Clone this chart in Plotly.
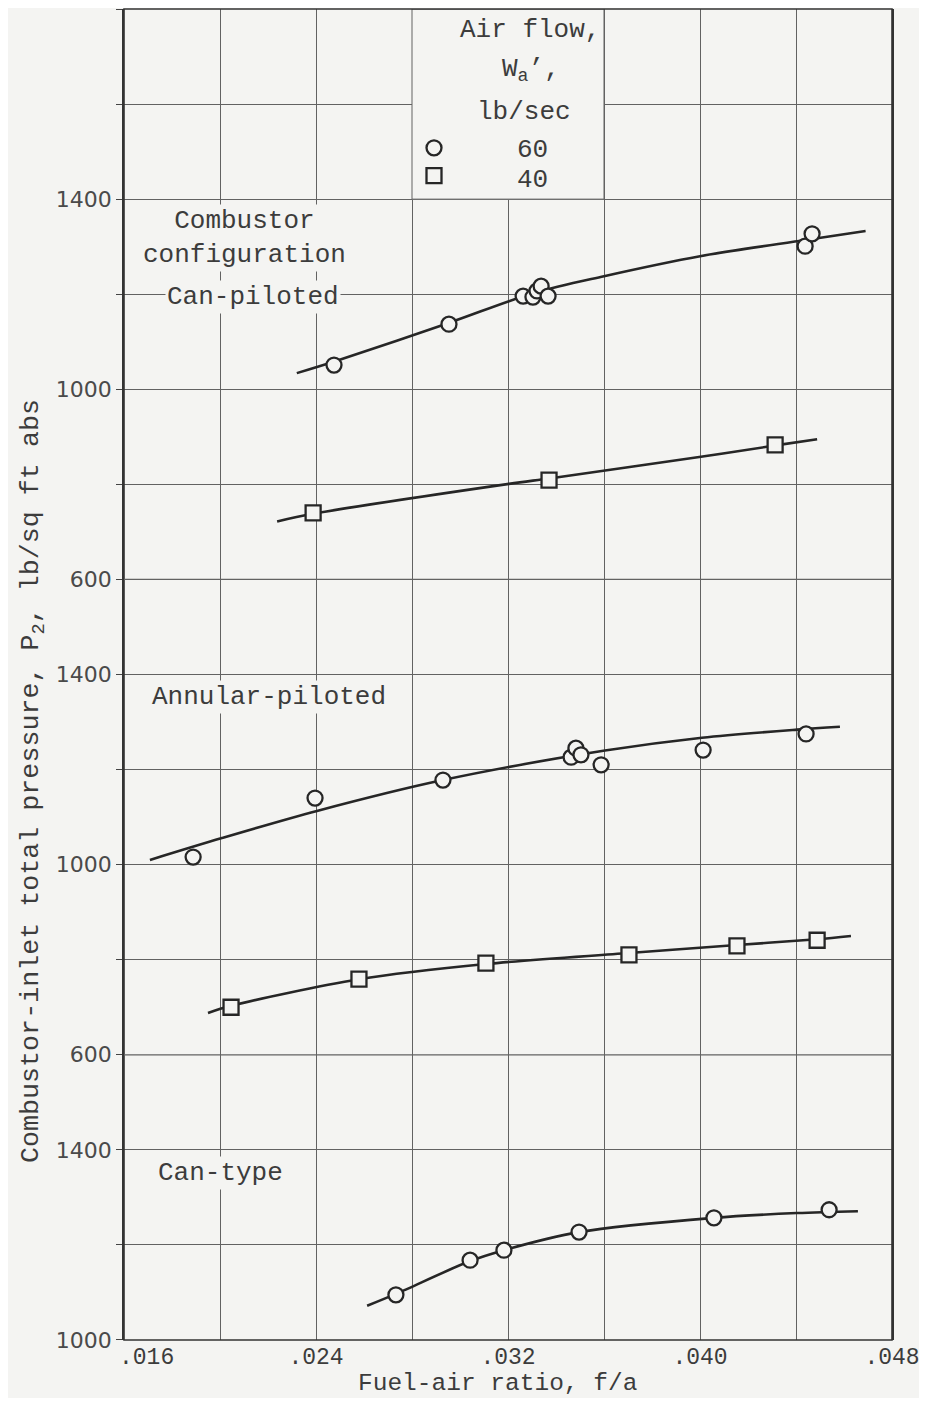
import plotly.graph_objects as go

# ---------------- data ----------------
# x: fuel-air ratio f/a ; y: combustor-inlet total pressure P2, lb/sq ft abs
# Can-piloted combustor
cp60_x = [0.02475, 0.02954, 0.03263, 0.03304, 0.03321, 0.03338, 0.03367, 0.04438, 0.04467]
cp60_y = [1051, 1137, 1196, 1194, 1207, 1217, 1196, 1301, 1327]
cp60_fit_x = [0.0232, 0.0248, 0.0295, 0.0331, 0.0360, 0.0400, 0.0444, 0.0469]
cp60_fit_y = [1034, 1059, 1139, 1203, 1238, 1280, 1314, 1333]
cp40_x = [0.02388, 0.03371, 0.04313]
cp40_y = [740, 809, 883]
cp40_fit_x = [0.02238, 0.02388, 0.03204, 0.03379, 0.04004, 0.04329, 0.04488]
cp40_fit_y = [722, 738, 801, 813, 858, 883, 895]

# Annular-piloted combustor
an60_x = [0.01888, 0.02396, 0.02929, 0.03463, 0.03483, 0.03504, 0.03588, 0.04013, 0.04442]
an60_y = [1016, 1140, 1178, 1226, 1245, 1231, 1210, 1241, 1275]
an60_fit_x = [0.01708, 0.02008, 0.02404, 0.02929, 0.03604, 0.04008, 0.04404, 0.04583]
an60_fit_y = [1010, 1056, 1113, 1178, 1240, 1267, 1284, 1290]
an40_x = [0.02046, 0.02579, 0.03108, 0.03704, 0.04154, 0.04488]
an40_y = [700, 759, 793, 810, 829, 841]
an40_fit_x = [0.0195, 0.02046, 0.02579, 0.03108, 0.03704, 0.04154, 0.04488, 0.04629]
an40_fit_y = [688, 703, 759, 791, 814, 831, 843, 850]

# Can-type combustor
ct60_x = [0.02733, 0.03042, 0.03183, 0.03496, 0.04058, 0.04538]
ct60_y = [1095, 1168, 1189, 1227, 1257, 1274]
ct60_fit_x = [0.02613, 0.02733, 0.03042, 0.03183, 0.03496, 0.04058, 0.04404, 0.04658]
ct60_fit_y = [1072, 1097, 1166, 1189, 1227, 1257, 1267, 1271]

# legend labels (air flow, lb/sec)
legend_labels = ["60", "40"]

# ticks and grid
x_tick_vals = [0.024, 0.032, 0.040, 0.048]
x_tick_text = [".024", ".032", ".040", ".048"]
x_first_label = ".016"          # drawn just right of the corner, as in the original
x_grid_vals = [0.016, 0.020, 0.024, 0.028, 0.032, 0.036, 0.040, 0.044, 0.048]
y1_tick_vals = [600, 1000, 1400]
y2_tick_vals = [600, 1000, 1400]
y3_tick_vals = [1000, 1400]
y1_grid_vals = [600, 800, 1000, 1200, 1400, 1600, 1800]
y2_grid_vals = [600, 800, 1000, 1200, 1400, 1600]
y3_grid_vals = [1000, 1200, 1400, 1600]

# ---------------- style ----------------
BG = "#f4f4f2"
INK = "#262626"
TXT = "#3c3c3c"
GRID = "#626262"
FRAME = "#333333"
MONO = "Liberation Mono"

fig = go.Figure()


def fit(x, y, ya):
    fig.add_trace(go.Scatter(x=x, y=y, xaxis="x", yaxis=ya, mode="lines",
                             line=dict(color=INK, width=2.6, shape="spline", smoothing=0.9),
                             showlegend=False, hoverinfo="skip"))


def pts(x, y, ya, symbol, legend=False):
    fig.add_trace(go.Scatter(x=x, y=y, xaxis="x", yaxis=ya, mode="markers",
                             marker=dict(symbol=symbol, size=15, color=BG,
                                         line=dict(color=INK, width=2.3)),
                             name="", showlegend=legend))


fit(cp60_fit_x, cp60_fit_y, "y")
fit(cp40_fit_x, cp40_fit_y, "y")
fit(an60_fit_x, an60_fit_y, "y2")
fit(an40_fit_x, an40_fit_y, "y2")
fit(ct60_fit_x, ct60_fit_y, "y3")
pts(cp60_x, cp60_y, "y", "circle", True)
pts(cp40_x, cp40_y, "y", "square", True)
pts(an60_x, an60_y, "y2", "circle")
pts(an40_x, an40_y, "y2", "square")
pts(ct60_x, ct60_y, "y3", "circle")

# page layout (the page body has an 8 px margin)
OFF = 8
W, H = 919, 1390
L, R, T, B = 124 - OFF, 35, 9 - OFF, 58
PW, PH = W - L - R, H - T - B


def px(xp):  # page pixel -> paper x
    return (xp - OFF - L) / PW


def py(yp):  # page pixel -> paper y
    return (H - B - (yp - OFF)) / PH


def yaxis(domain, rng, tvals, gvals):
    return dict(domain=domain, range=rng, tickmode="array", tickvals=tvals,
                ticktext=[str(v) for v in tvals],
                showgrid=True, gridcolor=GRID, gridwidth=1, zeroline=False,
                showline=True, linecolor=FRAME, linewidth=1.5, mirror=True,
                ticks="outside", ticklen=6, tickcolor="#444444",
                minor=dict(tickmode="array", tickvals=gvals, showgrid=True,
                           gridcolor=GRID, gridwidth=1, ticks="outside",
                           ticklen=6, tickcolor="#444444"),
                tickfont=dict(family="DejaVu Sans", size=22, color="#4a4a4a"),
                anchor="x", automargin=False, fixedrange=True)


fig.update_layout(
    width=W, height=H, autosize=False,
    margin=dict(l=L, r=R, t=T, b=B, pad=0),
    paper_bgcolor=BG, plot_bgcolor=BG,
    xaxis=dict(domain=[0, 1], range=[0.016, 0.048], anchor="y3",
               tickmode="array", tickvals=x_tick_vals, ticktext=x_tick_text,
               showgrid=True, gridcolor=GRID, gridwidth=1, zeroline=False,
               minor=dict(tickmode="array", tickvals=x_grid_vals, showgrid=True,
                          gridcolor=GRID, gridwidth=1),
               showline=False, ticks="", ticklabelstandoff=0, automargin=False,
               tickfont=dict(family=MONO, size=23, color=TXT), fixedrange=True),
    yaxis=yaxis([8 / 14, 1], [600, 1800], y1_tick_vals, y1_grid_vals),
    yaxis2=yaxis([3 / 14, 8 / 14], [600, 1600], y2_tick_vals, y2_grid_vals),
    yaxis3=yaxis([0, 3 / 14], [1000, 1600], y3_tick_vals, y3_grid_vals),
    legend=dict(x=px(414), y=py(129), xanchor="left", yanchor="top",
                bgcolor="rgba(0,0,0,0)", borderwidth=0,
                font=dict(family=MONO, size=19, color=TXT), tracegroupgap=0),
    showlegend=True,
)

# blank-out box behind the legend block (grid lines hidden there)
fig.add_shape(type="rect", xref="x", yref="y", x0=0.028, x1=0.036, y0=1400, y1=1800,
              fillcolor=BG, line=dict(color=GRID, width=1), layer="between")
# outer frame and panel boundaries
fig.add_shape(type="rect", xref="paper", yref="paper", x0=0, x1=1, y0=0, y1=1,
              line=dict(color=FRAME, width=1.6), layer="above")
for yb in (3 / 14, 8 / 14):
    fig.add_shape(type="line", xref="paper", yref="paper", x0=0, x1=1, y0=yb, y1=yb,
                  line=dict(color=GRID, width=1.2), layer="above")

ann_font = dict(family=MONO, size=26, color=TXT)


def note(text, xp, yp, bg=None, size=26, xanchor="center", **kw):
    fig.add_annotation(text=text, x=px(xp), y=py(yp), xref="paper", yref="paper",
                       showarrow=False, font=dict(ann_font, size=size), bgcolor=bg,
                       xanchor=xanchor, yanchor="middle", **kw)


note("Air flow,", 530, 30)
note("W<sub>a</sub>\u2019,", 531, 70)
note("lb/sec", 524, 112)
note(legend_labels[0], 532, 150)
note(legend_labels[1], 532, 180)
note("Combustor<br>configuration", 244, 238, bg=BG)
note("Can-piloted", 253, 297, bg=BG)
note("Annular-piloted", 269, 697, bg=BG)
note("Can-type", 220, 1173, bg=BG)
note(x_first_label, 117, 1358, size=23, xanchor="left")
note("Fuel-air ratio, f/a", 497, 1384, size=24.5)
note("Combustor-inlet total pressure, P<sub>2</sub>, lb/sq ft abs", 33, 781,
     size=26.7, textangle=-90)

fig.write_html("out.html")
